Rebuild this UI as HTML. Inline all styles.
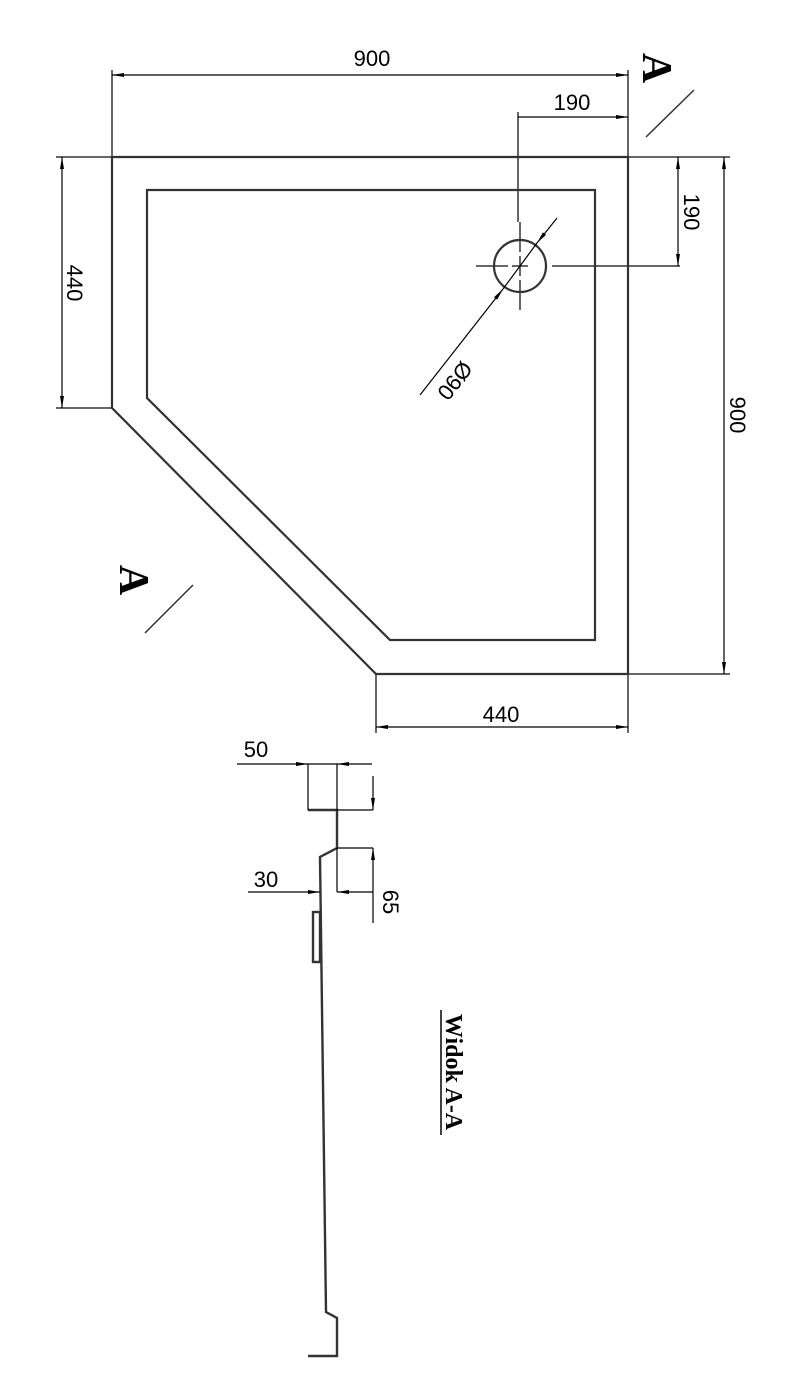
<!DOCTYPE html>
<html><head><meta charset="utf-8"><style>
html,body{margin:0;padding:0;background:#fff;}
svg{display:block;}
.d{font-family:"Liberation Sans",sans-serif;font-size:22px;fill:#000;}
</style></head><body>
<svg width="800" height="1383" viewBox="0 0 800 1383" xmlns="http://www.w3.org/2000/svg">
<defs>
<marker id="ar" viewBox="0 0 12 4" refX="12" refY="2" markerWidth="12" markerHeight="4" markerUnits="userSpaceOnUse" orient="auto-start-reverse"><path d="M0,0 L12,2 L0,4 Z" fill="#000"/></marker>
</defs>
<g fill="none" stroke="#333" stroke-width="2.2">
<polygon points="112,157 628,157 628,674 376,674 112,408"/>
<polygon points="147,190 595,190 595,640 390,640 147,398"/>
<circle cx="520" cy="266" r="26"/>
</g>
<g stroke="#333" stroke-width="1.5" fill="none">
<line x1="476" y1="266" x2="508" y2="266"/><line x1="512" y1="266" x2="528" y2="266"/><line x1="552" y1="266" x2="680" y2="266"/>
<line x1="520" y1="222" x2="520" y2="252"/><line x1="520" y1="256" x2="520" y2="276"/><line x1="520" y1="280" x2="520" y2="310"/>
<line x1="112" y1="70" x2="112" y2="157"/><line x1="628" y1="70" x2="628" y2="157"/>
<line x1="518" y1="112" x2="518" y2="222"/>
<line x1="628" y1="157" x2="730" y2="157"/><line x1="628" y1="674" x2="730" y2="674"/>
<line x1="56" y1="157" x2="112" y2="157"/><line x1="56" y1="408" x2="112" y2="408"/>
<line x1="376" y1="674" x2="376" y2="733"/><line x1="628" y1="674" x2="628" y2="733"/>
<line x1="646" y1="137" x2="694" y2="90"/>
<line x1="145" y1="633" x2="193" y2="585"/>
</g>
<g stroke="#000" stroke-width="1.2" fill="none">
<line x1="112" y1="75" x2="628" y2="75" marker-start="url(#ar)" marker-end="url(#ar)"/>
<line x1="518" y1="117" x2="628" y2="117" marker-end="url(#ar)"/>
<line x1="678" y1="157" x2="678" y2="266" marker-start="url(#ar)" marker-end="url(#ar)"/>
<line x1="724" y1="157" x2="724" y2="674" marker-start="url(#ar)" marker-end="url(#ar)"/>
<line x1="62" y1="157" x2="62" y2="408" marker-start="url(#ar)" marker-end="url(#ar)"/>
<line x1="376" y1="727" x2="628" y2="727" marker-start="url(#ar)" marker-end="url(#ar)"/>
<line x1="420" y1="395" x2="503" y2="289" marker-end="url(#ar)"/>
<line x1="557" y1="218" x2="537" y2="243" marker-end="url(#ar)"/>
<line x1="503" y1="289" x2="537" y2="243"/>
</g>
<text class="d" x="372" y="66" text-anchor="middle">900</text>
<text class="d" x="572" y="110" text-anchor="middle">190</text>
<text class="d" x="501" y="722" text-anchor="middle">440</text>
<text class="d" transform="translate(67,283) rotate(90)" text-anchor="middle">440</text>
<text class="d" transform="translate(684,212) rotate(90)" text-anchor="middle">190</text>
<text class="d" transform="translate(730,415) rotate(90)" text-anchor="middle">900</text>
<text class="d" transform="translate(449,376) rotate(128)" text-anchor="middle">Ø90</text>
<text transform="translate(643,68) rotate(90)" text-anchor="middle" font-family="Liberation Serif,serif" font-weight="bold" font-size="42">A</text>
<text transform="translate(120,580) rotate(90)" text-anchor="middle" font-family="Liberation Serif,serif" font-weight="bold" font-size="42">A</text>
<text transform="translate(446,1072) rotate(90)" text-anchor="middle" font-family="Liberation Serif,serif" font-weight="bold" font-size="24">Widok A-A</text>
<line x1="441" y1="1010" x2="441" y2="1135" stroke="#000" stroke-width="1.5"/>
<g fill="none" stroke="#333" stroke-width="2.4">
<polyline points="308,810 337,810 337,848 320,857 326,1312 337,1318 337,1356 308,1356"/>
<rect x="313" y="912" width="7" height="50"/>
</g>
<g stroke="#000" stroke-width="1.2" fill="none">
<polyline points="308,810 308,764 337,764 337,810"/>
<line x1="337" y1="810" x2="373" y2="810"/>
<line x1="337" y1="848" x2="373" y2="848"/>
<line x1="337" y1="848" x2="337" y2="892"/>
<line x1="237" y1="764" x2="308" y2="764" marker-end="url(#ar)"/>
<line x1="372" y1="764" x2="337" y2="764" marker-end="url(#ar)"/>
<line x1="373" y1="776" x2="373" y2="810" marker-end="url(#ar)"/>
<line x1="373" y1="923" x2="373" y2="848" marker-end="url(#ar)"/>
<line x1="248" y1="892" x2="320" y2="892" marker-end="url(#ar)"/>
<line x1="373" y1="892" x2="337" y2="892" marker-end="url(#ar)"/>
</g>
<text class="d" x="256" y="757" text-anchor="middle">50</text>
<text class="d" x="266" y="887" text-anchor="middle">30</text>
<text class="d" transform="translate(381,902) rotate(90)" text-anchor="middle" dy="-2">65</text>
</svg>
</body></html>
